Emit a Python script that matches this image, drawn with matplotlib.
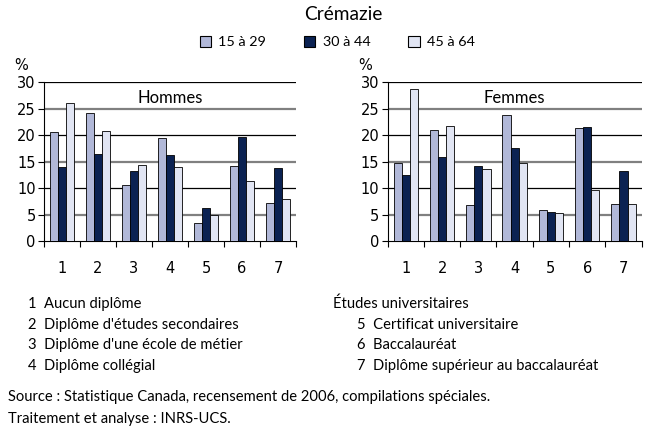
import numpy as np
import matplotlib
matplotlib.use("Agg")
from matplotlib import pyplot as plt
from matplotlib.patches import Patch

categories = ["1", "2", "3", "4", "5", "6", "7"]
groups = ["15 à 29", "30 à 44", "45 à 64"]
hommes_15_29 = [20.5, 24.2, 10.6, 19.4, 3.5, 14.2, 7.1]
hommes_30_44 = [13.9, 16.4, 13.2, 16.3, 6.2, 19.6, 13.7]
hommes_45_64 = [26.0, 20.7, 14.4, 14.0, 5.0, 11.3, 7.9]
femmes_15_29 = [14.7, 21.0, 6.8, 23.8, 5.9, 21.4, 7.0]
femmes_30_44 = [12.5, 15.8, 14.1, 17.6, 5.5, 21.6, 13.2]
femmes_45_64 = [28.7, 21.7, 13.6, 14.8, 5.3, 9.6, 7.0]
colors = ["#b1b8d8", "#0b2252", "#e1e5f3"]

left_notes = ["1  Aucun diplôme", "2  Diplôme d'études secondaires",
              "3  Diplôme d'une école de métier", "4  Diplôme collégial"]
right_notes = ["5  Certificat universitaire", "6  Baccalauréat",
               "7  Diplôme supérieur au baccalauréat"]

font_txt = "Lato"
note_size = 10.6

fig = plt.figure(figsize=(6.51, 4.32), dpi=100)


def panel(rect, series, label):
    ax = fig.add_axes(rect)
    x = np.arange(len(categories))
    w = 0.225
    for i, vals in enumerate(series):
        ax.bar(x + (i - 1) * w, vals, w, color=colors[i], edgecolor="black",
               linewidth=0.6, zorder=3)
    ax.set_ylim(0, 30)
    ax.set_xlim(-0.5, len(categories) - 0.5)
    for y in [5, 10, 15, 20, 25, 30]:
        if y % 10 == 5:
            ax.axhline(y, color="#808080", lw=1.6, zorder=1)
        else:
            ax.axhline(y, color="black", lw=0.9, zorder=1)
    ax.set_yticks([0, 5, 10, 15, 20, 25, 30])
    ax.set_xticks(x)
    ax.set_xticklabels(categories)
    ax.set_xticks(np.arange(-0.5, len(categories)), minor=True)
    ax.tick_params(axis="x", which="major", length=0, pad=14, labelsize=10.5)
    ax.tick_params(axis="x", which="minor", length=4, width=0.8, direction="out")
    ax.tick_params(axis="y", length=4, width=0.8, labelsize=10.5, pad=2)
    for s in ["top", "right"]:
        ax.spines[s].set_visible(False)
    ax.spines["left"].set_linewidth(0.8)
    ax.spines["bottom"].set_linewidth(0.8)
    ax.text(0.5, 0.9, label, transform=ax.transAxes, ha="center", va="center",
            fontsize=12, family=font_txt, zorder=4,
            bbox=dict(facecolor="white", edgecolor="none", pad=1))
    ax.text(-0.09, 1.06, "%", transform=ax.transAxes, ha="center", va="bottom",
            fontsize=10.5)
    return ax


panel([0.0676, 0.442, 0.387, 0.368],
      [hommes_15_29, hommes_30_44, hommes_45_64], "Hommes")
panel([0.5955, 0.442, 0.390, 0.368],
      [femmes_15_29, femmes_30_44, femmes_45_64], "Femmes")

fig.text(0.528, 1 - 14 / 432, "Crémazie", ha="center", va="center",
         fontsize=13.8, family=font_txt)
handles = [Patch(facecolor=c, edgecolor="black", linewidth=0.8) for c in colors]
fig.legend(handles, groups, loc="center", bbox_to_anchor=(0.518, 1 - 42 / 432),
           ncol=3, frameon=False, handlelength=0.8,
           handleheight=0.8, handletextpad=0.5, columnspacing=2.6,
           prop={"family": font_txt, "size": 10.4})

for i, t in enumerate(left_notes):
    fig.text(28 / 651, 1 - (304 + 20.7 * i) / 432, t, ha="left", va="center",
             fontsize=note_size, family=font_txt)
fig.text(333 / 651, 1 - 304 / 432, "Études universitaires", ha="left",
         va="center", fontsize=note_size, family=font_txt)
for i, t in enumerate(right_notes):
    fig.text(357 / 651, 1 - (324.7 + 20.7 * i) / 432, t, ha="left",
             va="center", fontsize=note_size, family=font_txt)
fig.text(8 / 651, 1 - 397 / 432,
         "Source : Statistique Canada, recensement de 2006, compilations spéciales.",
         ha="left", va="center", fontsize=note_size, family=font_txt)
fig.text(8 / 651, 1 - 419 / 432, "Traitement et analyse : INRS-UCS.",
         ha="left", va="center", fontsize=note_size, family=font_txt)

fig.savefig("out.png", dpi=100)
